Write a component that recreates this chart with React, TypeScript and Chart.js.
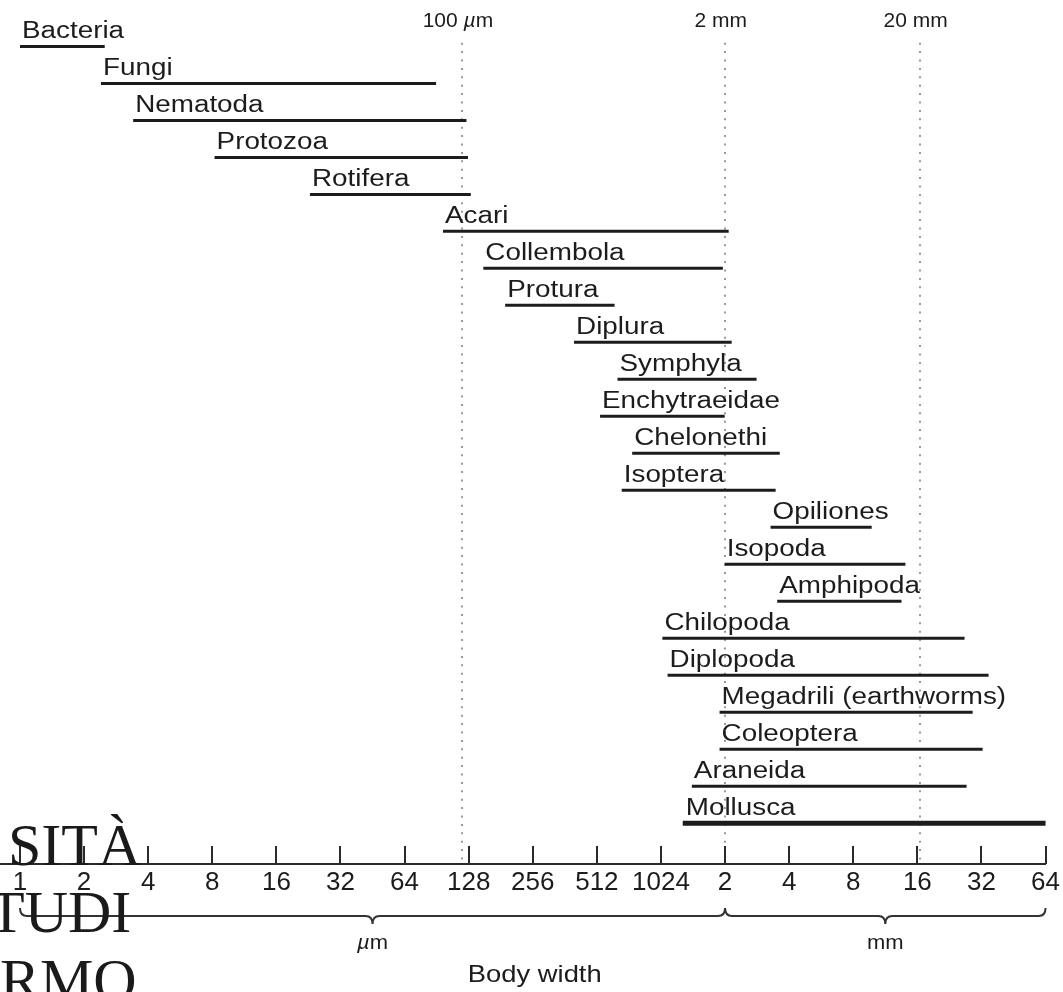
import React, { useEffect, useRef } from 'react';
import { Chart, registerables } from 'chart.js';

Chart.register(...registerables);

// ---------- data ----------
const taxa = [
  'Bacteria', 'Fungi', 'Nematoda', 'Protozoa', 'Rotifera', 'Acari', 'Collembola',
  'Protura', 'Diplura', 'Symphyla', 'Enchytraeidae', 'Chelonethi', 'Isoptera',
  'Opiliones', 'Isopoda', 'Amphipoda', 'Chilopoda', 'Diplopoda',
  'Megadrili (earthworms)', 'Coleoptera', 'Araneida', 'Mollusca',
];
// body width range in micrometres
const minWidthUm = [
  1, 2.4, 3.4, 8.2, 23, 97, 150,
  190, 400, 640, 530, 750, 670,
  3350, 2040, 3600, 1040, 1100,
  1930, 1930, 1430, 1310,
];
const maxWidthUm = [
  2.5, 90, 125, 127, 131, 2130, 2000,
  620, 2200, 2880, 2040, 3700, 3540,
  10000, 14400, 13800, 27300, 35400,
  29800, 33200, 27900, 65536,
];
const tickValuesUm = [1, 2, 4, 8, 16, 32, 64, 128, 256, 512, 1024, 2048, 4096, 8192, 16384, 32768, 65536];
const tickLabels = ['1', '2', '4', '8', '16', '32', '64', '128', '256', '512', '1024', '2', '4', '8', '16', '32', '64'];
const guideValuesUm = [119, 2040, 16800];
const guideLabels = [['100 ', 'µ', 'm'], ['2 mm', '', ''], ['20 mm', '', '']];
const unitNames = [['', 'µ', 'm'], ['mm', '', '']];
const unitFromUm = [1, 2048];
const unitToUm = [2048, 65536];
const axisTitle = 'Body width';
const heavyTaxon = 'Mollusca';

const SANS = '"Liberation Sans", Arial, Helvetica, sans-serif';
const INK = '#1c1c1c';

function drawStretched(ctx: CanvasRenderingContext2D, text: string, x: number, y: number, font: string, sx: number, align: CanvasTextAlign) {
  ctx.save();
  ctx.font = font;
  ctx.translate(x, y);
  ctx.scale(sx, 1);
  ctx.textAlign = align;
  ctx.textBaseline = 'alphabetic';
  ctx.fillStyle = INK;
  ctx.fillText(text, 0, 0);
  ctx.restore();
}

// parts: [before, italic, after]
function drawMixedCentered(ctx: CanvasRenderingContext2D, parts: string[], cx: number, y: number, size: number, sx: number) {
  const fonts = [`${size}px ${SANS}`, `italic ${size}px ${SANS}`, `${size}px ${SANS}`];
  const widths = parts.map((p, i) => { ctx.font = fonts[i]; return ctx.measureText(p).width * sx; });
  const total = widths.reduce((a, b) => a + b, 0);
  let x = cx - total / 2;
  parts.forEach((p, i) => {
    if (p) drawStretched(ctx, p, x, y, fonts[i], sx, 'left');
    x += widths[i];
  });
}

function drawBrace(ctx: CanvasRenderingContext2D, x1: number, x2: number, y: number) {
  const mid = (x1 + x2) / 2;
  const r = 7;
  ctx.beginPath();
  ctx.moveTo(x1, y - 8);
  ctx.quadraticCurveTo(x1, y, x1 + r, y);
  ctx.lineTo(mid - r, y);
  ctx.quadraticCurveTo(mid, y, mid, y + 8);
  ctx.quadraticCurveTo(mid, y, mid + r, y);
  ctx.lineTo(x2 - r, y);
  ctx.quadraticCurveTo(x2, y, x2, y - 8);
  ctx.stroke();
}

const overlayPlugin = {
  id: 'overlay',
  beforeDatasetsDraw(chart: any) {
    const ctx: CanvasRenderingContext2D = chart.ctx;
    const xs = chart.scales.x;
    const ys = chart.scales.y;
    const area = chart.chartArea;
    ctx.save();
    ctx.strokeStyle = '#9a9a9a';
    ctx.lineWidth = 2;
    ctx.setLineDash([2, 6.4]);
    guideValuesUm.forEach((v) => {
      const px = Math.round(xs.getPixelForValue(Math.log2(v)));
      ctx.beginPath();
      ctx.moveTo(px, ys.getPixelForValue(-0.1));
      ctx.lineTo(px, area.bottom);
      ctx.stroke();
    });
    ctx.restore();
  },
  afterDatasetsDraw(chart: any) {
    const ctx: CanvasRenderingContext2D = chart.ctx;
    const xs = chart.scales.x;
    const area = chart.chartArea;
    // category labels above each bar
    const meta = chart.getDatasetMeta(0);
    meta.data.forEach((el: any, i: number) => {
      const left = Math.min(el.x, el.base);
      drawStretched(ctx, taxa[i], left + 2, el.y - 8, `23px ${SANS}`, 1.21, 'left');
    });
    // guide labels at the top
    guideValuesUm.forEach((v, i) => {
      const px = xs.getPixelForValue(Math.log2(v));
      drawMixedCentered(ctx, guideLabels[i], px - 4, 27, 21, 1.0);
    });
    // tick marks pointing up from the axis
    ctx.save();
    ctx.strokeStyle = '#2a2a2a';
    ctx.lineWidth = 2;
    tickValuesUm.forEach((v) => {
      const px = Math.round(xs.getPixelForValue(Math.log2(v)));
      ctx.beginPath();
      ctx.moveTo(px, area.bottom);
      ctx.lineTo(px, area.bottom - 18);
      ctx.stroke();
    });
    // braces for unit groups
    ctx.lineWidth = 2;
    ctx.strokeStyle = '#333';
    unitFromUm.forEach((from, i) => {
      const x1 = xs.getPixelForValue(Math.log2(from));
      const x2 = xs.getPixelForValue(Math.log2(unitToUm[i]));
      drawBrace(ctx, x1, x2, area.bottom + 52);
      drawMixedCentered(ctx, unitNames[i], (x1 + x2) / 2, area.bottom + 85, 20, 1.1);
    });
    ctx.restore();
    // axis title
    drawStretched(ctx, axisTitle, (area.left + area.right) / 2 + 12, area.bottom + 118, `24px ${SANS}`, 1.14, 'center');
  },
};

export default function App() {
  const ref = useRef<HTMLCanvasElement | null>(null);

  useEffect(() => {
    if (!ref.current) return;
    const data = taxa.map((_, i) => ({ x: [Math.log2(minWidthUm[i]), Math.log2(maxWidthUm[i])], y: i }));
    const chart = new Chart(ref.current, {
      type: 'bar',
      data: {
        datasets: [
          {
            label: 'Body width range',
            data: data as any,
            backgroundColor: INK,
            borderWidth: 0,
            borderSkipped: false,
            barThickness: 3,
            inflateAmount: ((c: any) => (taxa[c.dataIndex] === heavyTaxon ? 1 : 0)) as any,
          },
        ],
      },
      options: {
        indexAxis: 'y',
        animation: false,
        responsive: false,
        devicePixelRatio: 1,
        layout: { padding: { top: 9.4, right: 17, left: 0, bottom: 0 } },
        plugins: { legend: { display: false }, tooltip: { enabled: false } },
        scales: {
          y: {
            type: 'linear',
            display: false,
            reverse: true,
            offset: false,
            min: -1,
            max: 22.1,
          },
          x: {
            type: 'linear',
            offset: false,
            min: -20 / 64.125,
            max: 16,
            grid: { display: false, drawTicks: false },
            border: { display: true, color: '#2a2a2a', width: 2 },
            afterBuildTicks: (axis: any) => {
              axis.ticks = tickValuesUm.map((v) => ({ value: Math.log2(v) }));
            },
            afterFit: (axis: any) => {
              axis.height = 128;
            },
            ticks: {
              autoSkip: false,
              maxRotation: 0,
              padding: 3,
              color: INK,
              font: { family: SANS, size: 26 },
              callback: (_v: any, idx: number) => tickLabels[idx],
            },
          },
        },
      },
      plugins: [overlayPlugin],
    });
    return () => chart.destroy();
  }, []);

  const wm: React.CSSProperties = {
    position: 'absolute',
    font: '60px "Liberation Serif", "Times New Roman", serif',
    lineHeight: '60px',
    color: '#1a1a1a',
    whiteSpace: 'nowrap',
    pointerEvents: 'none',
  };

  return (
    <div style={{ position: 'absolute', left: 0, top: 0, width: 1063, height: 992, overflow: 'hidden', background: '#fff' }}>
      <canvas ref={ref} width={1063} height={992} style={{ display: 'block' }} />
      <div style={{ ...wm, left: 8, top: 815 }}>SITÀ</div>
      <div style={{ ...wm, left: -12, top: 882 }}>TUDI</div>
      <div style={{ ...wm, left: 0, top: 950 }}>RMO</div>
    </div>
  );
}
